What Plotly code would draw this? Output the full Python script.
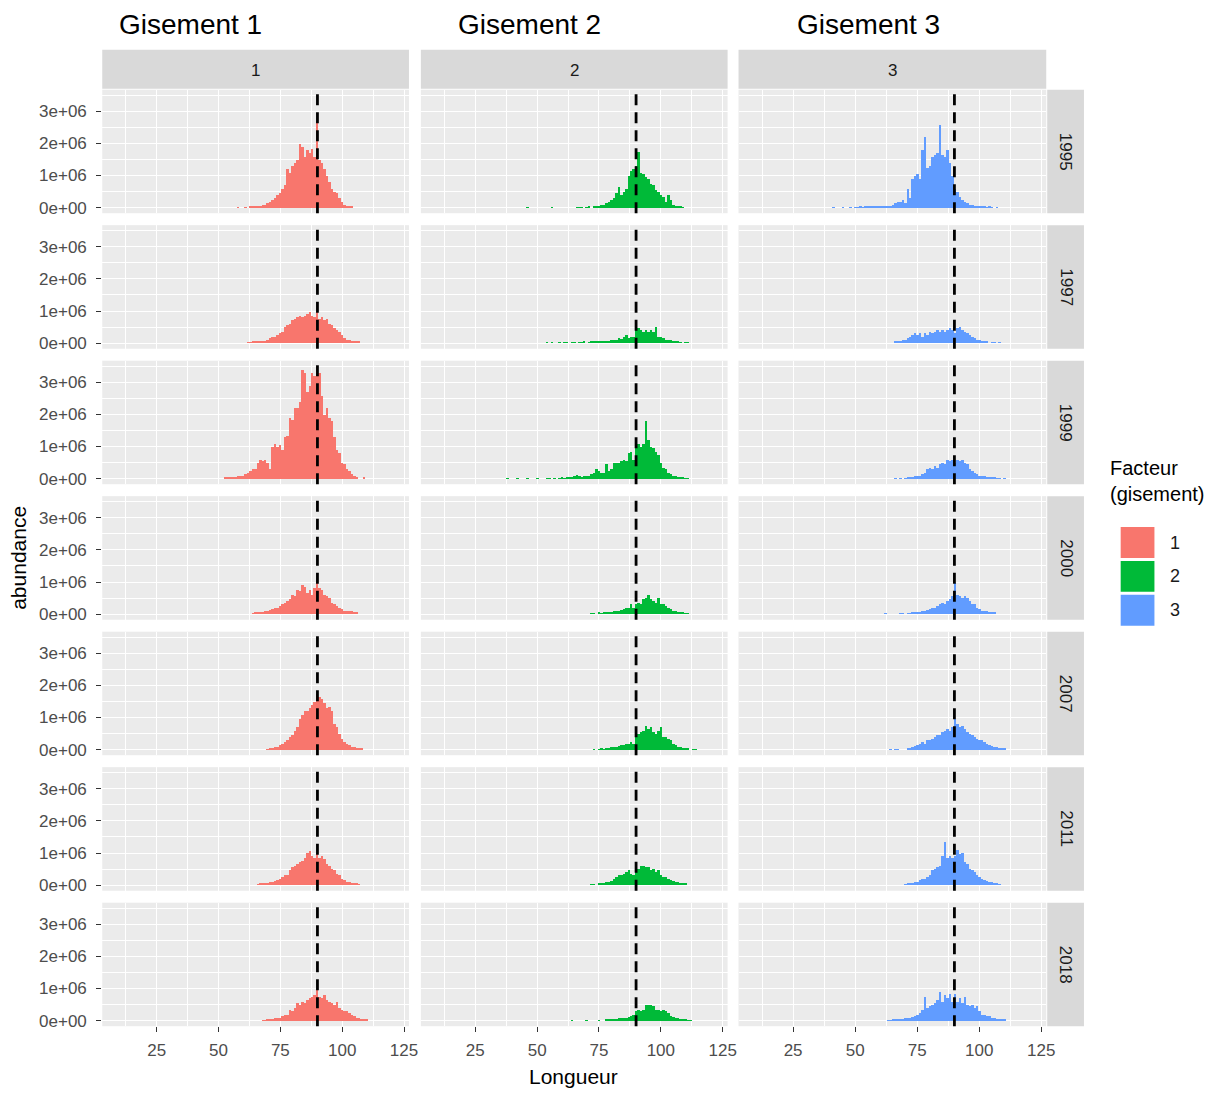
import plotly.graph_objects as go

# ---------------- data (abundance in millions, 1-mm length bins) ----------------
years = ["1995", "1997", "1999", "2000", "2007", "2011", "2018"]
gisements = ["1", "2", "3"]
colors = {"1": "#F8766D", "2": "#00BA38", "3": "#619CFF"}
tick_x = [25, 50, 75, 100, 125]
tick_y = [0, 1e6, 2e6, 3e6]
tick_y_text = ["0e+00", "1e+06", "2e+06", "3e+06"]
ref_length = 90

# Gisement 1
g1_1995_start = 58
g1_1995 = [0.02,0,0,0.02,0,0.03,0.03,0.05,0.05,0.05,0.1,0.08,0.15,0.2,0.25,0.3,0.4,0.45,0.6,0.7,
           1.2,1.1,1.3,1.4,1.5,2.0,1.9,1.6,1.8,1.7,1.85,1.6,2.7,1.5,1.4,1.2,1.0,0.8,0.6,0.5,
           0.45,0.3,0.2,0.08,0.05,0.05,0.03]
g1_1997_start = 62
g1_1997 = [0.02,0.02,0.03,0.05,0.05,0.05,0.05,0.05,0.08,0.15,0.2,0.2,0.25,0.3,0.35,0.5,0.55,0.6,0.7,0.75,
           0.8,0.85,0.8,0.85,0.9,0.95,0.85,0.8,0.95,0.75,0.8,0.7,0.75,0.6,0.55,0.45,0.4,0.35,0.25,0.15,
           0.1,0.1,0.05,0.05,0.05,0.03]
g1_1999_start = 53
g1_1999 = [0.03,0.03,0.05,0.05,0.05,0.08,0.1,0.1,0.15,0.2,0.25,0.3,0.3,0.5,0.6,0.55,0.6,0.5,0.3,1.0,
           1.1,1.0,1.05,0.9,1.3,1.35,1.9,1.85,2.2,2.2,2.4,3.4,3.3,2.7,2.9,3.3,3.2,3.5,3.3,2.6,
           2.0,2.2,1.9,1.8,1.3,0.9,0.8,0.5,0.45,0.3,0.25,0.15,0.1,0.05,0,0,0.03]
g1_2000_start = 64
g1_2000 = [0.02,0.03,0.03,0.05,0.05,0.08,0.1,0.12,0.15,0.2,0.2,0.25,0.3,0.35,0.4,0.45,0.6,0.55,0.75,0.7,
           0.9,0.85,0.65,0.75,0.6,0.8,1.05,0.8,0.75,0.6,0.55,0.5,0.35,0.3,0.25,0.2,0.15,0.1,0.1,0.08,
           0.1,0.05,0.03]
g1_2007_start = 70
g1_2007 = [0.02,0.03,0.05,0.1,0.1,0.15,0.2,0.25,0.3,0.4,0.45,0.6,0.7,0.95,1.1,1.2,1.2,1.3,1.4,1.5,
           1.75,1.65,1.6,1.45,1.3,1.35,1.2,0.8,0.7,0.5,0.35,0.25,0.2,0.15,0.1,0.08,0.05,0.03,0.03]
g1_2011_start = 66
g1_2011 = [0.02,0.03,0.03,0.05,0.05,0.08,0.1,0.12,0.15,0.2,0.25,0.3,0.3,0.45,0.55,0.6,0.65,0.7,0.75,0.85,
           1.0,1.05,0.9,0.85,0.95,0.85,0.9,0.8,0.65,0.6,0.5,0.45,0.35,0.3,0.2,0.15,0.1,0.08,0.05,0.05,
           0.03,0.02]
g1_2018_start = 68
g1_2018 = [0.02,0.02,0.03,0.05,0.05,0.08,0.1,0.1,0.15,0.2,0.2,0.35,0.3,0.4,0.55,0.5,0.6,0.55,0.65,0.7,
           0.75,0.8,0.95,0.75,0.7,0.8,0.65,0.6,0.55,0.5,0.6,0.4,0.35,0.3,0.3,0.25,0.2,0.15,0.1,0.1,
           0.05,0.05,0.03]

# Gisement 2
g2_1995_start = 46
g2_1995 = [0.02,0,0,0,0,0,0,0,0,0,0.02,0,0,0,0,0,0,0,0,0,
           0.02,0.02,0.02,0,0.02,0.03,0,0.03,0.05,0.05,0.1,0.1,0.15,0.2,0.25,0.3,0.45,0.65,0.4,0.5,
           0.6,1.0,1.15,1.2,1.3,1.75,1.1,1.05,0.95,0.9,0.75,0.7,0.55,0.5,0.4,0.35,0.2,0.4,0.25,0.1,
           0.05,0.05,0.03,0.02]
g2_1997_start = 54
g2_1997 = [0.02,0,0.02,0,0,0.02,0,0.02,0.02,0,0.02,0.02,0,0.02,0.02,0.03,0,0.02,0.03,0.03,
           0.03,0.05,0.05,0.03,0.05,0.05,0.08,0.1,0.1,0.15,0.12,0.2,0.25,0.15,0.2,0.2,0.5,0.45,0.4,0.35,
           0.4,0.35,0.4,0.35,0.5,0.2,0.2,0.15,0.1,0.1,0.08,0.05,0.05,0.03,0.02,0,0.02,0.02]
g2_1999_start = 38
g2_1999 = [0.02,0,0,0,0.02,0,0,0,0.02,0,0,0,0.02,0,0,0,0.02,0.02,0,0.02,
           0,0.02,0.03,0.02,0.03,0.05,0.05,0.1,0.12,0.08,0.05,0.1,0.08,0.1,0.15,0.2,0.3,0.25,0.2,0.2,
           0.45,0.25,0.3,0.5,0.5,0.5,0.55,0.6,0.55,0.8,0.85,0.6,1.1,1.1,1.0,1.1,1.8,1.2,1.0,0.95,
           0.85,0.75,0.5,0.35,0.3,0.2,0.15,0.1,0.08,0.05,0.03,0.03,0.02,0.02]
g2_2000_start = 72
g2_2000 = [0.02,0.02,0,0.03,0.02,0.05,0.03,0.05,0.05,0.08,0.1,0.1,0.12,0.15,0.2,0.2,0.3,0.2,0.3,0.35,
           0.3,0.45,0.5,0.6,0.45,0.4,0.35,0.5,0.3,0.3,0.25,0.2,0.15,0.1,0.08,0.05,0.05,0.03,0.02,0.02]
g2_2007_start = 73
g2_2007 = [0.02,0,0.02,0.03,0.02,0.05,0.05,0.08,0.1,0.1,0.12,0.15,0.15,0.2,0.2,0.25,0.2,0.45,0.5,0.55,
           0.6,0.75,0.65,0.7,0.55,0.5,0.6,0.7,0.4,0.4,0.35,0.3,0.2,0.15,0.1,0.08,0.05,0.03,0.03,0,
           0.02,0.02]
g2_2011_start = 72
g2_2011 = [0.02,0.02,0,0.03,0.05,0.05,0.08,0.1,0.12,0.2,0.25,0.3,0.3,0.35,0.4,0.45,0.35,0.3,0.55,0.5,
           0.6,0.6,0.55,0.55,0.45,0.5,0.4,0.45,0.3,0.25,0.25,0.2,0.15,0.12,0.1,0.08,0.05,0.05,0.03]
g2_2018_start = 64
g2_2018 = [0.02,0,0,0,0,0,0.02,0,0,0,0,0.02,0,0,0.03,0.03,0.05,0.05,0.05,0.08,
           0.08,0.1,0.1,0.12,0.15,0.2,0.3,0.35,0.3,0.35,0.5,0.5,0.5,0.45,0.35,0.35,0.3,0.35,0.3,0.25,
           0.15,0.12,0.1,0.08,0.05,0.05,0.03,0.02,0.02]

# Gisement 3
g3_1995_start = 41
g3_1995 = [0.02,0,0,0,0.02,0,0,0.02,0,0.02,0.02,0.03,0.02,0.03,0.05,0.03,0.05,0.05,0.05,0.05,
           0.03,0.05,0.03,0.05,0.1,0.15,0.2,0.2,0.25,0.15,0.6,0.3,0.9,1.0,1.05,0.9,1.8,2.2,1.25,1.3,
           1.6,1.65,1.7,2.6,1.65,1.6,1.8,1.4,1.0,0.6,0.5,0.35,0.25,0.2,0.15,0.1,0.1,0.05,0.05,0.03,
           0.05,0.03,0.02,0.03,0.02,0,0.02]
g3_1997_start = 66
g3_1997 = [0.03,0.05,0.05,0.08,0.1,0.15,0.2,0.25,0.3,0.25,0.3,0.2,0.3,0.25,0.35,0.3,0.35,0.4,0.35,0.4,
           0.35,0.4,0.45,0.4,0.3,0.45,0.5,0.4,0.35,0.3,0.25,0.2,0.15,0.1,0.08,0.05,0.05,0.03,0,0.02,
           0.02,0,0.02]
g3_1999_start = 66
g3_1999 = [0.02,0,0.02,0,0.02,0.03,0.03,0.05,0.08,0.1,0.1,0.15,0.2,0.3,0.35,0.3,0.4,0.35,0.45,0.5,
           0.45,0.6,0.55,0.6,0.5,0.6,0.55,0.6,0.5,0.45,0.3,0.25,0.2,0.15,0.1,0.08,0.08,0.05,0.05,0.03,
           0.03,0.02,0.02,0,0.02]
g3_2000_start = 62
g3_2000 = [0.02,0,0,0,0,0,0.02,0.02,0,0.02,0.02,0.03,0.03,0.05,0.05,0.08,0.1,0.12,0.15,0.2,
           0.2,0.25,0.3,0.35,0.3,0.4,0.45,0.55,0.95,0.6,0.55,0.5,0.55,0.5,0.4,0.3,0.3,0.2,0.15,0.1,
           0.1,0.08,0.05,0.05,0.03]
g3_2007_start = 64
g3_2007 = [0.02,0,0.02,0.02,0,0,0,0.03,0.05,0.1,0.12,0.15,0.2,0.25,0.2,0.3,0.3,0.35,0.4,0.45,
           0.45,0.55,0.6,0.65,0.6,0.7,0.95,0.8,0.7,0.75,0.65,0.55,0.5,0.45,0.4,0.35,0.3,0.3,0.25,0.2,
           0.15,0.12,0.1,0.08,0.05,0.03,0.03]
g3_2011_start = 70
g3_2011 = [0.02,0.03,0.05,0.05,0.08,0.1,0.15,0.2,0.2,0.25,0.3,0.45,0.5,0.55,0.6,0.9,1.35,0.85,0.9,0.85,
           0.9,1.1,0.95,1.0,0.7,0.65,0.5,0.45,0.4,0.3,0.25,0.2,0.15,0.12,0.1,0.08,0.05,0.03,0.02]
g3_2018_start = 63
g3_2018 = [0.02,0.02,0.03,0.03,0.05,0.05,0.05,0.08,0.1,0.1,0.12,0.15,0.2,0.25,0.35,0.75,0.4,0.45,0.5,0.55,
           0.65,0.9,0.6,0.8,0.7,0.85,0.6,0.85,0.6,0.7,0.55,0.75,0.5,0.45,0.5,0.4,0.45,0.3,0.2,0.2,
           0.15,0.15,0.1,0.08,0.05,0.05,0.03,0.03]

series = {
    ("1", "1995"): (g1_1995_start, g1_1995), ("1", "1997"): (g1_1997_start, g1_1997),
    ("1", "1999"): (g1_1999_start, g1_1999), ("1", "2000"): (g1_2000_start, g1_2000),
    ("1", "2007"): (g1_2007_start, g1_2007), ("1", "2011"): (g1_2011_start, g1_2011),
    ("1", "2018"): (g1_2018_start, g1_2018),
    ("2", "1995"): (g2_1995_start, g2_1995), ("2", "1997"): (g2_1997_start, g2_1997),
    ("2", "1999"): (g2_1999_start, g2_1999), ("2", "2000"): (g2_2000_start, g2_2000),
    ("2", "2007"): (g2_2007_start, g2_2007), ("2", "2011"): (g2_2011_start, g2_2011),
    ("2", "2018"): (g2_2018_start, g2_2018),
    ("3", "1995"): (g3_1995_start, g3_1995), ("3", "1997"): (g3_1997_start, g3_1997),
    ("3", "1999"): (g3_1999_start, g3_1999), ("3", "2000"): (g3_2000_start, g3_2000),
    ("3", "2007"): (g3_2007_start, g3_2007), ("3", "2011"): (g3_2011_start, g3_2011),
    ("3", "2018"): (g3_2018_start, g3_2018),
}

# ---------------- layout geometry (pixels) ----------------
W, H = 1222, 1093
FONT = "Liberation Sans, Arial, sans-serif"
col_px = [(103, 412), (424, 733), (744, 1054)]
row_top0, row_step, row_h = 90, 136, 124
strip_top = (50, 89)
strip_right = (1055, 1092)


def fx(p):
    return p / W


def fy(p):
    return 1 - p / H


fig = go.Figure()
layout = dict(
    width=W, height=H, margin=dict(l=0, r=0, t=0, b=0),
    paper_bgcolor="white", plot_bgcolor="#EBEBEB",
    showlegend=False, bargap=0, barmode="overlay",
    font=dict(family=FONT, color="#4D4D4D"),
)
shapes, annotations = [], []

for ci, g in enumerate(gisements):
    for ri, yr in enumerate(years):
        n = ri * 3 + ci + 1
        sfx = "" if n == 1 else str(n)
        x0, x1 = col_px[ci]
        top = row_top0 + ri * row_step
        bot = top + row_h
        start, vals = series[(g, yr)]
        xs = [start + i for i in range(len(vals))]
        ys = [v * 1e6 for v in vals]
        fig.add_trace(go.Bar(
            x=xs, y=ys, width=1, marker=dict(color=colors[g], line=dict(width=0)),
            xaxis="x" + sfx, yaxis="y" + sfx, name=g, hoverinfo="x+y",
        ))
        bottom_row = ri == len(years) - 1
        left_col = ci == 0
        layout["xaxis" + sfx] = dict(
            domain=[fx(x0), fx(x1)], anchor="y" + sfx, range=[3, 127],
            tickvals=tick_x, showticklabels=bottom_row,
            ticks="outside" if bottom_row else "", ticklen=5, tickcolor="#333333",
            ticklabelstandoff=3,
            tickfont=dict(size=17, color="#4D4D4D"),
            showgrid=True, gridcolor="white", gridwidth=1.3, zeroline=False, showline=False,
            minor=dict(tickvals=[12.5, 37.5, 62.5, 87.5, 112.5], showgrid=True,
                       gridcolor="white", gridwidth=0.6, ticks=""),
            fixedrange=True,
        )
        layout["yaxis" + sfx] = dict(
            domain=[fy(bot), fy(top)], anchor="x" + sfx, range=[-0.175e6, 3.675e6],
            tickvals=tick_y, ticktext=tick_y_text, showticklabels=left_col,
            ticks="outside" if left_col else "", ticklen=5, tickcolor="#333333",
            ticklabelstandoff=6,
            tickfont=dict(size=17, color="#4D4D4D"),
            showgrid=True, gridcolor="white", gridwidth=1.3, zeroline=False, showline=False,
            minor=dict(tickvals=[0.5e6, 1.5e6, 2.5e6, 3.5e6], showgrid=True,
                       gridcolor="white", gridwidth=0.6, ticks=""),
            fixedrange=True,
        )
        shapes.append(dict(
            type="line", xref="x" + sfx, yref="y" + sfx + " domain",
            x0=ref_length, x1=ref_length, y0=0, y1=1, layer="above",
            line=dict(color="black", width=2.8, dash="11px,7px"),
        ))

# top strips and column titles
title_x = [192, 533, 875]
for ci, g in enumerate(gisements):
    x0, x1 = col_px[ci]
    shapes.append(dict(type="rect", xref="paper", yref="paper",
                       x0=fx(x0), x1=fx(x1), y0=fy(strip_top[1]), y1=fy(strip_top[0]),
                       fillcolor="#D9D9D9", line=dict(width=0), layer="below"))
    annotations.append(dict(text=g, x=fx((x0 + x1) / 2), y=fy(71), xref="paper", yref="paper",
                            showarrow=False, font=dict(size=17, color="#1A1A1A"),
                            xanchor="center", yanchor="middle"))
    annotations.append(dict(text="Gisement " + g, x=fx(title_x[ci]), y=fy(25), xref="paper",
                            yref="paper", showarrow=False, font=dict(size=28, color="black"),
                            xanchor="center", yanchor="middle"))

# right strips (years)
for ri, yr in enumerate(years):
    top = row_top0 + ri * row_step
    bot = top + row_h
    shapes.append(dict(type="rect", xref="paper", yref="paper",
                       x0=fx(strip_right[0]), x1=fx(strip_right[1]), y0=fy(bot), y1=fy(top),
                       fillcolor="#D9D9D9", line=dict(width=0), layer="below"))
    annotations.append(dict(text=yr, x=fx((strip_right[0] + strip_right[1]) / 2),
                            y=fy((top + bot) / 2), xref="paper", yref="paper", showarrow=False,
                            textangle=90, font=dict(size=17, color="#1A1A1A"),
                            xanchor="center", yanchor="middle"))

# axis titles
annotations.append(dict(text="Longueur", x=fx(578), y=fy(1080), xref="paper", yref="paper",
                        showarrow=False, font=dict(size=21, color="black"),
                        xanchor="center", yanchor="middle"))
annotations.append(dict(text="abundance", x=fx(19), y=fy(560), xref="paper", yref="paper",
                        showarrow=False, textangle=-90, font=dict(size=21, color="black"),
                        xanchor="center", yanchor="middle"))

# legend (drawn as keys)
annotations.append(dict(text="Facteur<br>(gisement)", x=fx(1116), y=fy(483), xref="paper",
                        yref="paper", showarrow=False, align="left",
                        font=dict(size=20, color="black"), xanchor="left", yanchor="middle"))
key_rows = [(529, 560), (563, 594), (597, 628)]
for (k0, k1), g in zip(key_rows, gisements):
    shapes.append(dict(type="rect", xref="paper", yref="paper",
                       x0=fx(1129), x1=fx(1163), y0=fy(k1), y1=fy(k0),
                       fillcolor=colors[g], line=dict(width=0)))
    annotations.append(dict(text=g, x=fx(1177), y=fy((k0 + k1) / 2), xref="paper",
                            yref="paper", showarrow=False, font=dict(size=18, color="#1A1A1A"),
                            xanchor="left", yanchor="middle"))

layout["shapes"] = shapes
layout["annotations"] = annotations
fig.update_layout(**layout)
fig.write_html("out.html")
